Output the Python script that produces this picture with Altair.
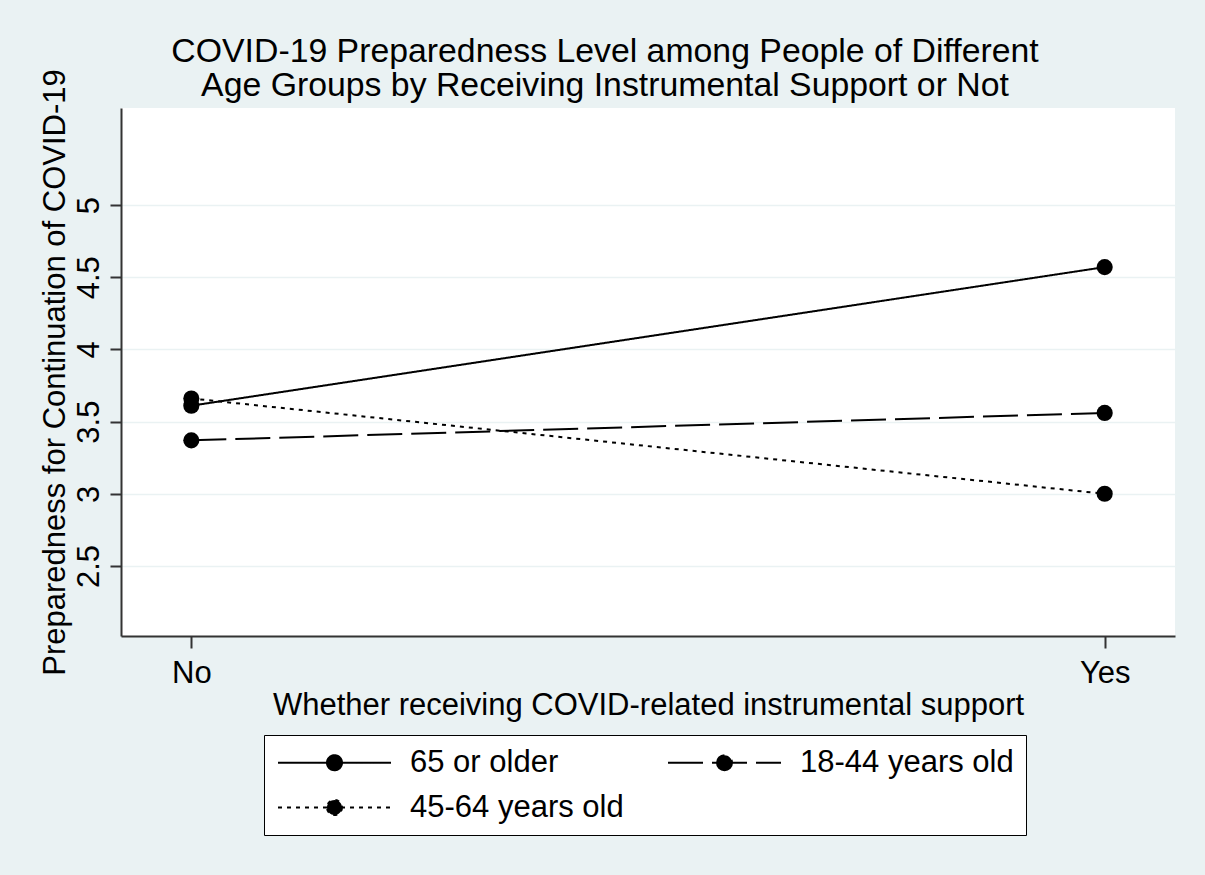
import altair as alt
import pandas as pd

# Series and category values
groups = ["65 or older", "18-44 years old", "45-64 years old"]
support_labels = ["No", "Yes"]
prep_65_plus = [3.61, 4.57]
prep_18_44 = [3.37, 3.56]
prep_45_64 = [3.66, 3.00]
y_ticks = [2.5, 3, 3.5, 4, 4.5, 5]

rows = []
for grp, vals in zip(groups, [prep_65_plus, prep_18_44, prep_45_64]):
    for i, (lab, v) in enumerate(zip(support_labels, vals)):
        rows.append({"group": grp, "support": lab, "xpos": i, "prep": v})
df = pd.DataFrame(rows)

FONT = "Liberation Sans"
BG = "#EAF2F3"

# legend glyph: horizontal line with a filled dot in the middle.
# The glyph is drawn at a small nominal size so legend rows stay compact,
# with the path reaching past the unit box to get a long line.
sym_side = 16                      # sqrt of legend symbolSize
half_len = 56.5 / (sym_side / 2)   # half line length in path units
dot_r = 7.5 / (sym_side / 2)       # dot radius in path units
legend_path = (
    f"M{-half_len:.3f},0L{half_len:.3f},0"
    f"M{dot_r:.3f},0A{dot_r:.3f},{dot_r:.3f},0,1,1,{-dot_r:.3f},0"
    f"A{dot_r:.3f},{dot_r:.3f},0,1,1,{dot_r:.3f},0Z"
)

x_enc = alt.X(
    "xpos:Q",
    scale=alt.Scale(domain=[-0.077, 1.077], nice=False, zero=False),
    axis=alt.Axis(
        values=[0, 1],
        labelExpr="datum.value == 0 ? 'No' : 'Yes'",
        title="Whether receiving COVID-related instrumental support",
        grid=False,
        tickSize=12,
        labelPadding=10,
        labelFontSize=31,
        titleFontSize=31,
        titleFontWeight="normal",
        titlePadding=2,
    ),
)
y_enc = alt.Y(
    "prep:Q",
    scale=alt.Scale(domain=[2.015, 5.672], nice=False, zero=False),
    axis=alt.Axis(
        values=y_ticks,
        format="~g",
        title="Preparedness for Continuation of COVID-19",
        grid=True,
        tickSize=11,
        labelAngle=270,
        labelAlign="center",
        labelBaseline="bottom",
        labelPadding=5,
        labelFontSize=31,
        titleFontSize=31,
        titleFontWeight="normal",
        titleAngle=270,
        titleAlign="center",
        titleBaseline="middle",
        titleX=-66,
        titleY=264,
    ),
)

lines = alt.Chart(df).mark_line(color="black", strokeWidth=2).encode(
    x=x_enc,
    y=y_enc,
    strokeDash=alt.StrokeDash(
        "group:N",
        scale=alt.Scale(domain=groups, range=[[1, 0], [35, 9], [4, 5]]),
        legend=alt.Legend(
            title=None,
            orient="none",
            direction="horizontal",
            legendX=143,
            legendY=627,
            columns=2,
            columnPadding=40,
            rowPadding=13,
            padding=12,
            strokeColor="black",
            fillColor="white",
            symbolType=legend_path,
            symbolSize=sym_side * sym_side,
            symbolOffset=43,
            symbolStrokeWidth=2,
            symbolStrokeColor="black",
            symbolFillColor="black",
            labelFontSize=31,
            labelFont=FONT,
            labelOffset=60,
            labelLimit=400,
        ),
    ),
    detail="group:N",
)

points = alt.Chart(df).mark_circle(color="black", size=260, opacity=1).encode(
    x="xpos:Q",
    y="prep:Q",
)

chart = (
    alt.layer(lines, points)
    .properties(
        width=1054,
        height=528,
        background=BG,
        padding={"left": 121, "top": 108, "right": 30, "bottom": 239},
        autosize=alt.AutoSizeParams(type="none"),
        title=alt.TitleParams(
            text=[
                "COVID-19 Preparedness Level among People of Different",
                "Age Groups by Receiving Instrumental Support or Not",
            ],
            font=FONT,
            fontSize=33.8,
            fontWeight="normal",
            color="black",
            anchor="middle",
            frame="group",
            dx=-43,
            dy=38,
            lineHeight=33.5,
        ),
    )
    .configure_view(fill="white", stroke=None)
    .configure_axis(
        labelFont=FONT,
        titleFont=FONT,
        labelColor="black",
        titleColor="black",
        domainColor="#333333",
        domainWidth=2,
        tickColor="#333333",
        tickWidth=2,
        gridColor=BG,
        gridWidth=1.5,
    )
)

chart.save("out.html", embed_options={"renderer": "svg", "actions": False})
